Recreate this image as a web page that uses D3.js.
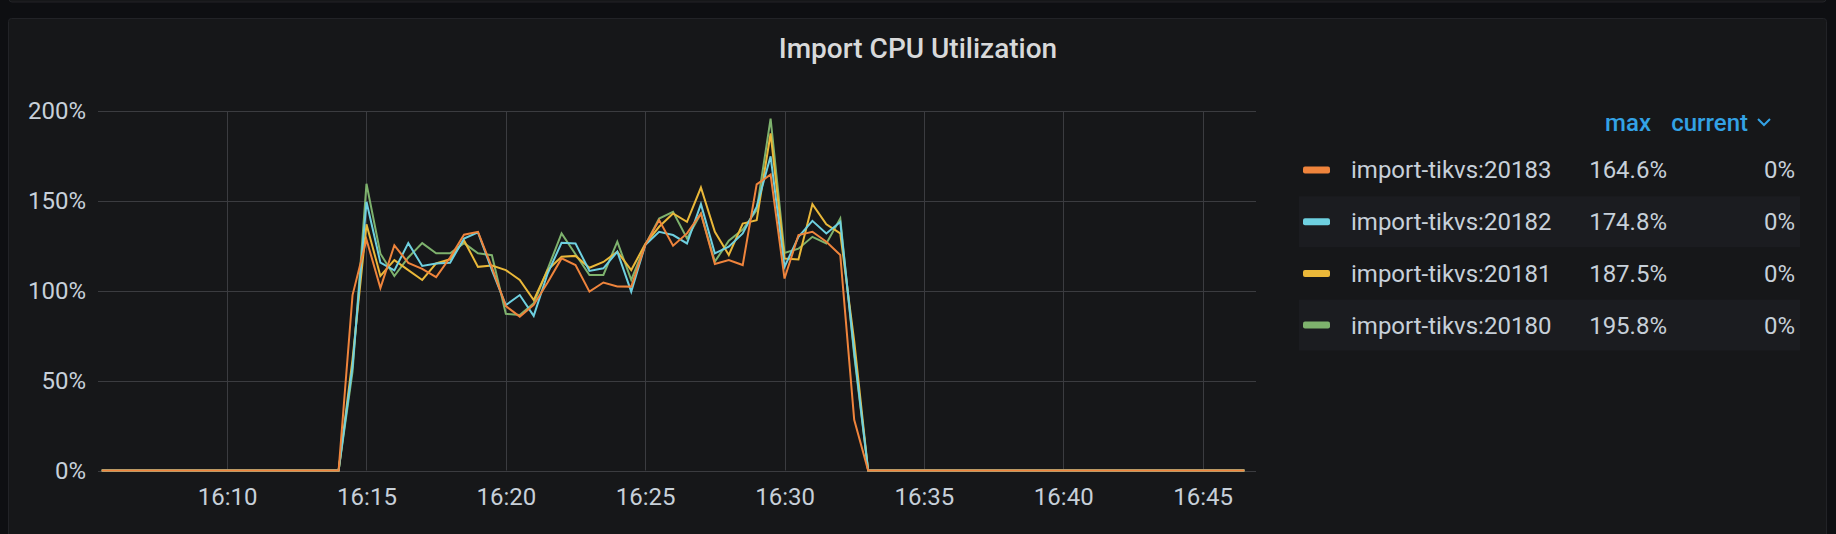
<!DOCTYPE html>
<html><head><meta charset="utf-8">
<script src="https://cdn.jsdelivr.net/npm/d3@7"></script>
<style>
html,body{margin:0;padding:0;background:#0e0f12;}
svg{display:block;font-family:Roboto,"Noto Sans",sans-serif;}
</style></head><body>
<svg id="chart" width="1836" height="534"></svg>
<script>
const chartTitle = "Import CPU Utilization";
const seriesNames = ["import-tikvs:20183", "import-tikvs:20182", "import-tikvs:20181", "import-tikvs:20180"];
const seriesColors = ["#ef843c", "#6ed0e0", "#eab839", "#7eb26d"];
const legendMax = ["164.6%", "174.8%", "187.5%", "195.8%"];
const legendCurrent = ["0%", "0%", "0%", "0%"];
const yTicks = [0, 50, 100, 150, 200];
const xTickLabels = ["16:10", "16:15", "16:20", "16:25", "16:30", "16:35", "16:40", "16:45"];
// samples every 30 s from 16:05:30 to 16:46:30
const sampleStart = "16:05:30";
const sampleStepSec = 30;
const s20183 = [0,0,0,0,0,0,0,0,0,0,0,0,0,0,0,0,0,
  0,97.6,128.5,101.5,125.3,115.5,112.2,107.6,118.5,131.2,132.8,113,91.5,85.6,92.1,104.6,118,114.3,99.5,104.6,102.4,102.3,125.4,139.3,125.1,131.9,143,114.9,117.1,114.3,159.2,164.6,106.8,131,132.8,127.3,119.9,28.2,0,
  0,0,0,0,0,0,0,0,0,0,0,0,0,0,0,0,0,0,0,0,0,0,0,0,0,0,0];
const s20182 = [0,0,0,0,0,0,0,0,0,0,0,0,0,0,0,0,0,
  0,58,149.5,115.6,111.3,126.5,113.8,115.2,115.6,129,132.5,111.5,92,97.6,86,109.6,126.7,126.3,111,112.5,121.7,99.5,125.4,132.8,131,126.3,148.2,120.8,124.5,131.9,146.6,174.8,113.3,130,138.9,131.9,138.3,66,0,
  0,0,0,0,0,0,0,0,0,0,0,0,0,0,0,0,0,0,0,0,0,0,0,0,0,0,0];
const s20181 = [0,0,0,0,0,0,0,0,0,0,0,0,0,0,0,0,0,
  0,62,137,108.2,117,111.5,106,115.2,117.5,128,113.3,114,111.5,106,94.8,111.5,118.9,119.4,112.8,116,121.7,111.5,126,135.6,143,138.3,157.4,132.8,119.9,137.4,139.2,187.5,117.9,117.4,148.2,137,131.9,72,0,
  0,0,0,0,0,0,0,0,0,0,0,0,0,0,0,0,0,0,0,0,0,0,0,0,0,0,0];
const s20180 = [0,0,0,0,0,0,0,0,0,0,0,0,0,0,0,0,0,
  0,55,159.5,120.6,108.2,118.5,126.5,120.8,120.8,126.5,120.8,119.8,87.2,86.5,93,112,131.9,120.3,108.7,108.8,127.3,106,125.4,140.2,143.9,129.1,143,116.2,127.8,134,144.8,195.8,121,123.4,130,126.3,140.2,64,0,
  0,0,0,0,0,0,0,0,0,0,0,0,0,0,0,0,0,0,0,0,0,0,0,0,0,0,0];
const seriesValues = [s20183, s20182, s20181, s20180];

const day = "2020-01-01T";
const t0 = new Date(day + sampleStart + "Z");
const times = s20183.map((_, i) => new Date(t0.getTime() + i * sampleStepSec * 1000));

const svg = d3.select("#chart");
const W = 1836, H = 534;
const textColor = "#c7d0d9";

// page + panels
svg.append("rect").attr("width", W).attr("height", H).attr("fill", "#0e0f12");
svg.append("rect").attr("x", 9).attr("y", -10).attr("width", 1817).attr("height", 12)
  .attr("rx", 3).attr("fill", "#161719").attr("stroke", "#222327").attr("stroke-width", 1);
svg.append("rect").attr("x", 8.5).attr("y", 18.5).attr("width", 1818).attr("height", 530)
  .attr("rx", 3).attr("fill", "#161719").attr("stroke", "#222327").attr("stroke-width", 1);

svg.append("text").attr("x", 918).attr("y", 48).attr("dy", "0.35em")
  .attr("text-anchor", "middle").attr("fill", "#d8d9da")
  .attr("font-size", 28).attr("font-weight", 500).text(chartTitle);

// scales
const x = d3.scaleUtc()
  .domain([new Date(day + "16:05:22Z"), new Date(day + "16:46:55Z")])
  .range([98, 1256]);
const y = d3.scaleLinear().domain([0, 200]).range([470.5, 111]);

const tickDates = xTickLabels.map(s => new Date(day + s + ":00Z"));
const grid = svg.append("g");
grid.selectAll("line.h").data(yTicks).join("line")
  .attr("x1", 98).attr("x2", 1256)
  .attr("y1", d => Math.round(y(d)) + 0.5).attr("y2", d => Math.round(y(d)) + 0.5)
  .attr("stroke", "#3b3c40").attr("stroke-width", 1);
grid.selectAll("line.v").data(tickDates).join("line")
  .attr("x1", d => Math.round(x(d)) + 0.5).attr("x2", d => Math.round(x(d)) + 0.5)
  .attr("y1", y(200)).attr("y2", y(0))
  .attr("stroke", "#3b3c40").attr("stroke-width", 1);

// axes
const yAxis = d3.axisLeft(y).tickValues(yTicks).tickSize(0).tickPadding(12)
  .tickFormat(d => d + "%");
const gy = svg.append("g").attr("transform", "translate(98,0)").call(yAxis);
gy.select(".domain").remove();
gy.selectAll("text").attr("fill", textColor).attr("font-size", 24)
  .attr("font-family", "Roboto,'Noto Sans',sans-serif");

const xAxis = d3.axisBottom(x).tickValues(tickDates).tickSize(0).tickPadding(0)
  .tickFormat((d, i) => xTickLabels[i]);
const gx = svg.append("g").attr("transform", "translate(0,488)").call(xAxis);
gx.select(".domain").remove();
gx.selectAll("text").attr("fill", textColor).attr("font-size", 24)
  .attr("font-family", "Roboto,'Noto Sans',sans-serif");

// lines (draw legend-last first so first series ends on top)
const line = d3.line().x((d, i) => x(times[i])).y(d => y(d));
const order = [3, 2, 1, 0];
svg.append("g").selectAll("path").data(order).join("path")
  .attr("d", k => line(seriesValues[k]))
  .attr("fill", "none").attr("stroke", k => seriesColors[k])
  .attr("stroke-width", 2).attr("stroke-linejoin", "miter");

// legend
const blue = "#33a2e5";
const lg = svg.append("g");
lg.append("text").attr("x", 1651).attr("y", 123).attr("dy", "0.35em").attr("text-anchor", "end")
  .attr("fill", blue).attr("font-size", 24).attr("font-weight", 500).text("max");
lg.append("text").attr("x", 1748).attr("y", 123).attr("dy", "0.35em").attr("text-anchor", "end")
  .attr("fill", blue).attr("font-size", 24).attr("font-weight", 500).text("current");
lg.append("path").attr("d", "M1758,119 L1764,125 L1770,119").attr("fill", "none")
  .attr("stroke", blue).attr("stroke-width", 2);

const rowY = d3.scaleLinear().domain([0, 1]).range([170, 221.7]);
const rows = lg.selectAll("g.row").data(seriesNames).join("g").attr("class", "row");
rows.filter((d, i) => i % 2 === 1).append("rect")
  .attr("x", 1299).attr("width", 501)
  .attr("y", d => rowY(seriesNames.indexOf(d)) - 25.5).attr("height", 51)
  .attr("fill", "#1b1c20");
rows.append("rect").attr("x", 1303).attr("width", 27)
  .attr("y", (d, i) => rowY(i) - 3.5).attr("height", 7).attr("rx", 2)
  .attr("fill", (d, i) => seriesColors[i]);
rows.append("text").attr("x", 1351).attr("y", (d, i) => rowY(i)).attr("dy", "0.35em")
  .attr("fill", textColor).attr("font-size", 24).text(d => d);
rows.append("text").attr("x", 1667).attr("y", (d, i) => rowY(i)).attr("dy", "0.35em")
  .attr("text-anchor", "end").attr("fill", textColor).attr("font-size", 24)
  .text((d, i) => legendMax[i]);
rows.append("text").attr("x", 1795).attr("y", (d, i) => rowY(i)).attr("dy", "0.35em")
  .attr("text-anchor", "end").attr("fill", textColor).attr("font-size", 24)
  .text((d, i) => legendCurrent[i]);
</script>
</body></html>
